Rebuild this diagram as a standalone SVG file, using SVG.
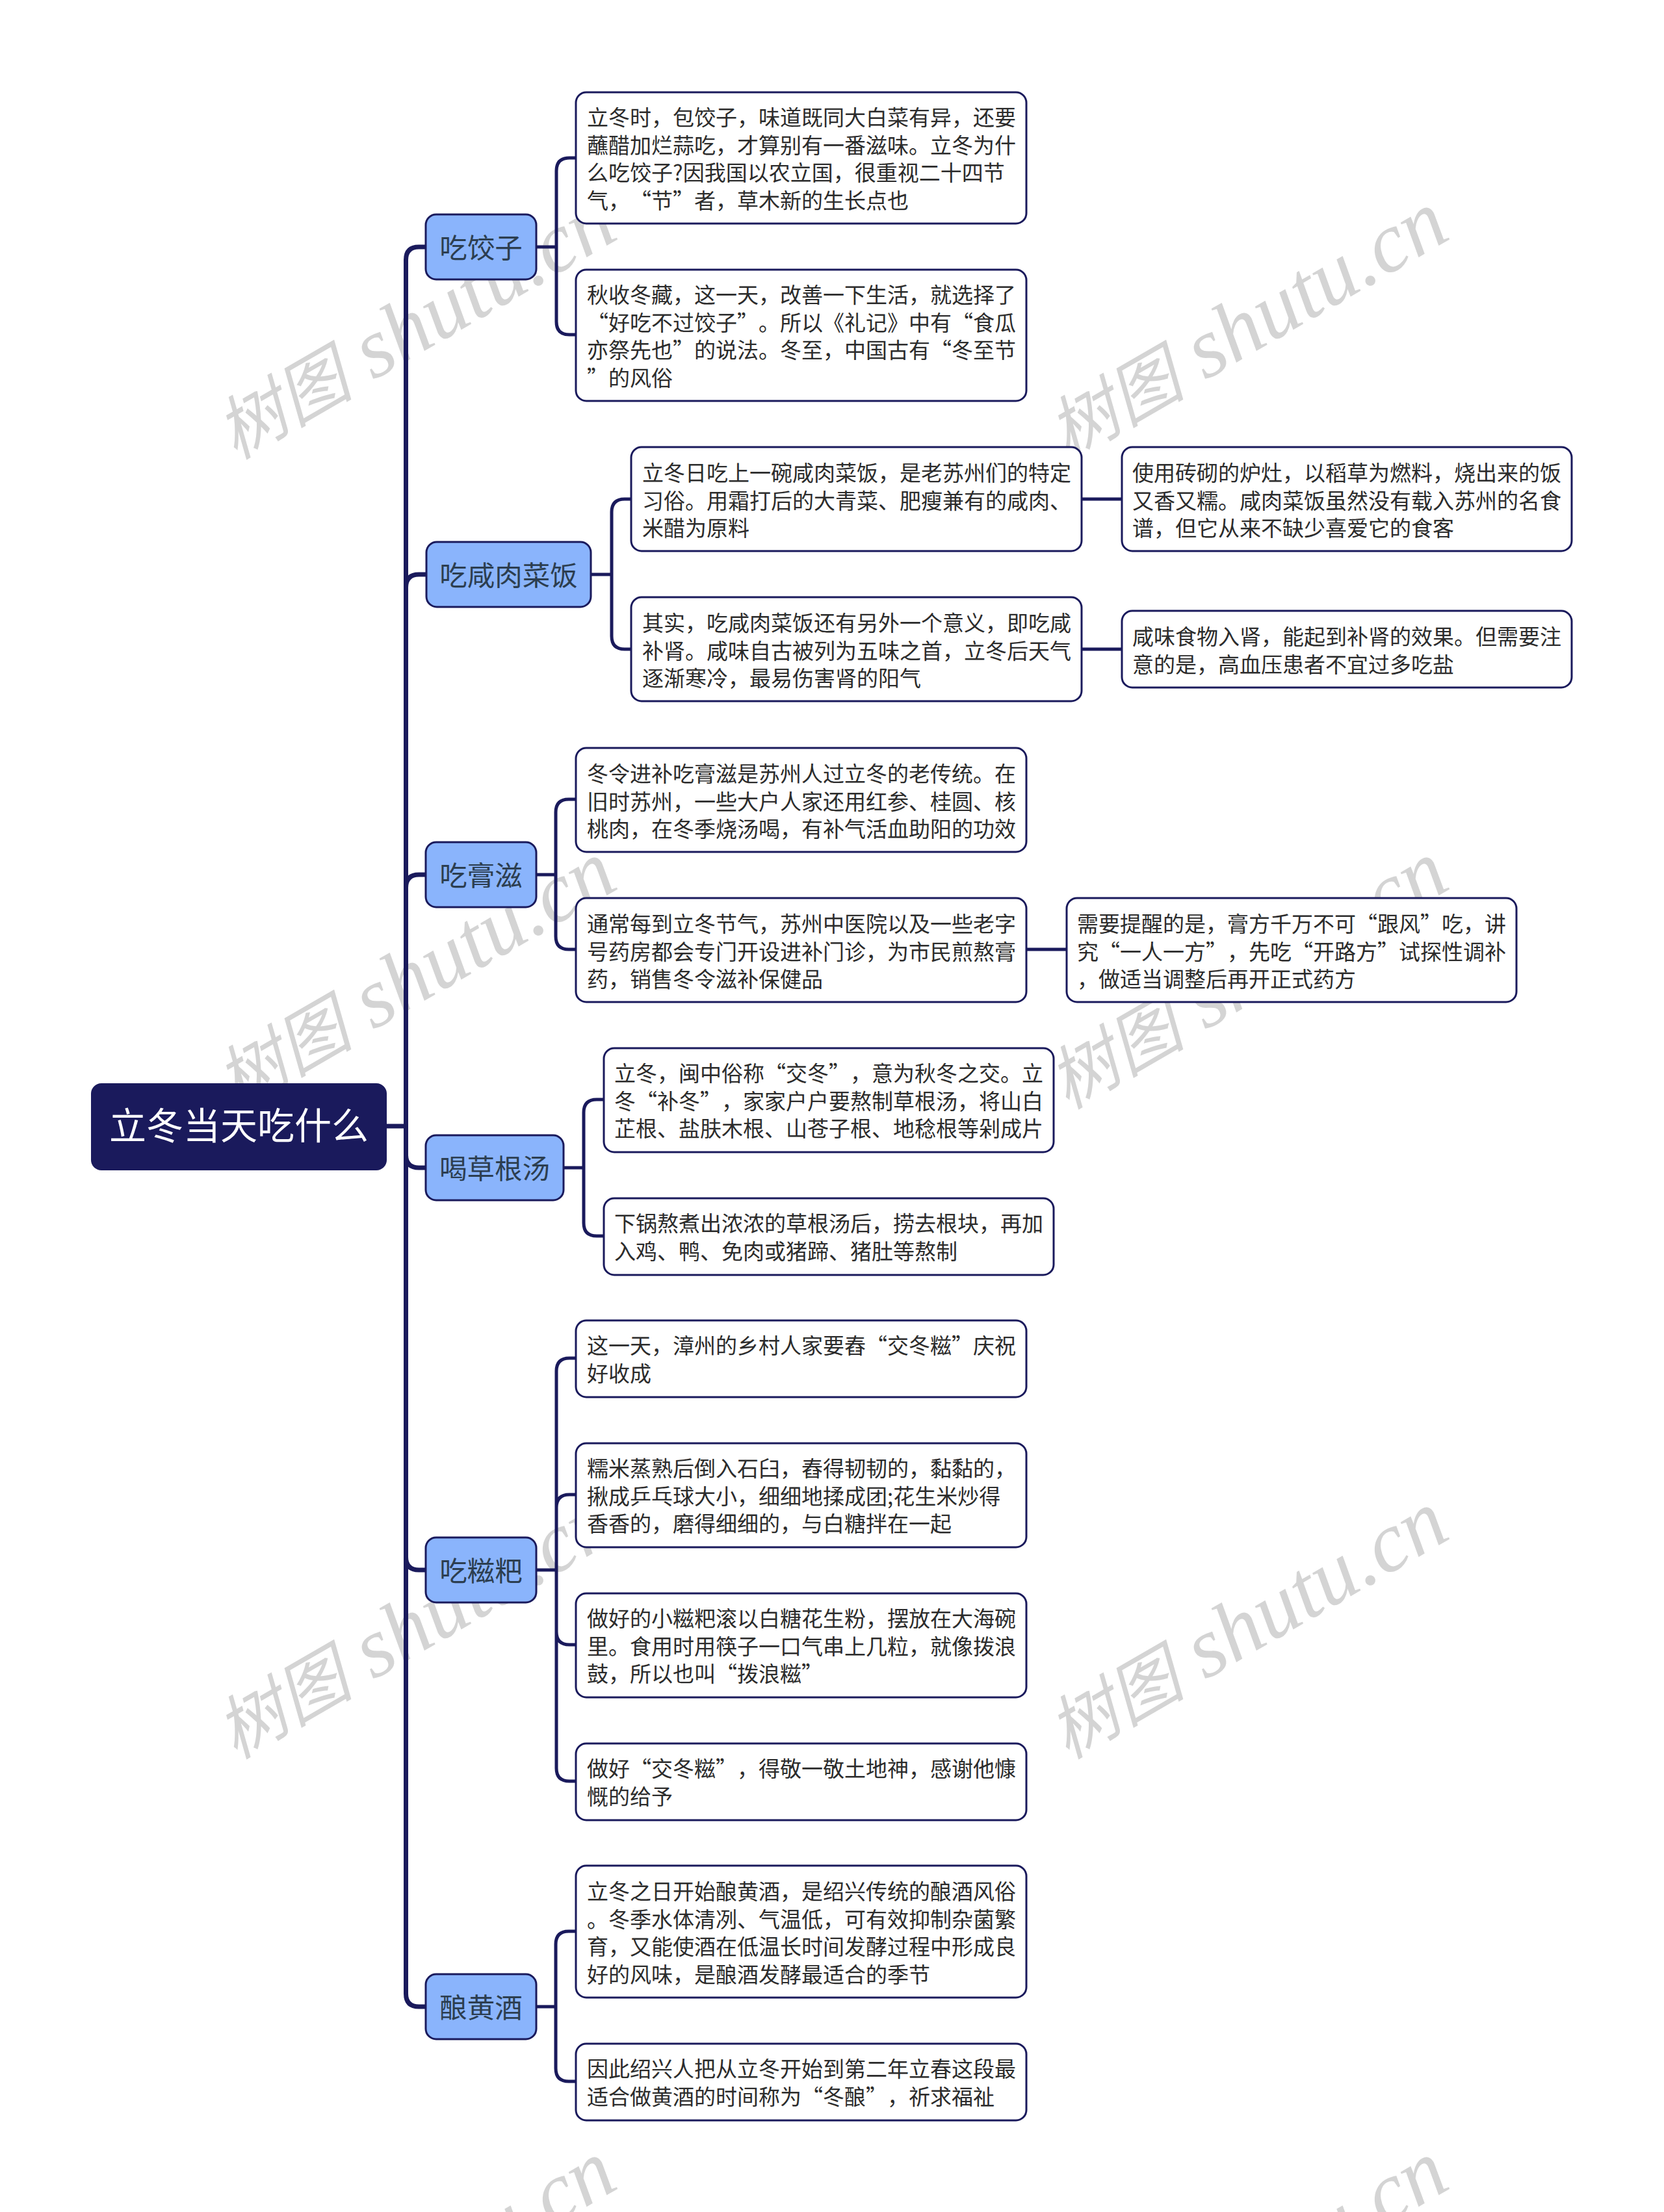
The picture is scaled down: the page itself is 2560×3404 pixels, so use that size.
<svg xmlns="http://www.w3.org/2000/svg" width="2560" height="3404" viewBox="0 0 2560 3404">
<style>
text{font-family:"Noto Sans CJK SC","Liberation Sans",sans-serif;text-spacing-trim:space-all;font-feature-settings:"chws" 0,"palt" 0,"halt" 0}
.wm{font-family:"Liberation Serif","Noto Sans CJK SC",serif;font-style:italic;font-size:131px;fill:#d4d4d4}
.wc{font-size:106px}
.t{fill:none;stroke:#1a1a5c;stroke-width:7}
.b{fill:none;stroke:#1a1a5c;stroke-width:5}
.root{fill:#1a1a5c}
.rt{fill:#fff;font-size:57px;text-anchor:middle}
.l1{fill:#8ab4fc;stroke:#1a1a5c;stroke-width:3}
.lt{fill:#2c3e50;font-size:42.500px;text-anchor:middle}
.l2{fill:#fff;stroke:#1a1a5c;stroke-width:3}
.tx{fill:#2c2c2c;font-size:33px}
</style>
<defs><text id="w" class="wm" transform="rotate(-30)"><tspan class="wc">树图</tspan> shutu.cn</text></defs>
<g id="watermark">
<use href="#w" transform="translate(362,708)"/>
<use href="#w" transform="translate(1642,708)"/>
<use href="#w" transform="translate(362,1708)"/>
<use href="#w" transform="translate(1642,1708)"/>
<use href="#w" transform="translate(362,2708)"/>
<use href="#w" transform="translate(1642,2708)"/>
<use href="#w" transform="translate(362,3708)"/>
<use href="#w" transform="translate(1642,3708)"/>
</g>
<g id="connectors">
<path class="t" d="M594,1733H624.500"/>
<path class="t" d="M624.500,1733V400Q624.500,380 644.500,380H656"/>
<path class="t" d="M624.500,1733V904Q624.500,884 644.500,884H656"/>
<path class="t" d="M624.500,1733V1366Q624.500,1346 644.500,1346H656"/>
<path class="t" d="M624.500,1733V1777Q624.500,1797 644.500,1797H656"/>
<path class="t" d="M624.500,1733V2396Q624.500,2416 644.500,2416H656"/>
<path class="t" d="M624.500,1733V3068Q624.500,3088 644.500,3088H656"/>
<path class="b" d="M824,380H856M886,243H876Q856,243 856,263V495Q856,515 876,515H886"/>
<path class="b" d="M909,884H941M971,768H961Q941,768 941,788V979Q941,999 961,999H971"/>
<path class="b" d="M1664,768H1727M1664,999H1727"/>
<path class="b" d="M824,1346H855M887,1230H875Q855,1230 855,1250V1441Q855,1461 875,1461H887"/>
<path class="b" d="M1578,1461H1642"/>
<path class="b" d="M867,1797H898M929,1692H918Q898,1692 898,1712V1882Q898,1902 918,1902H929"/>
<path class="b" d="M825,2416H856M887,2090H876Q856,2090 856,2110V2721Q856,2741 876,2741H887M856,2320Q856,2300 876,2300H887M856,2511Q856,2531 876,2531H887"/>
<path class="b" d="M824,3088H855M887,2972H875Q855,2972 855,2992V3183Q855,3203 875,3203H887"/>
</g>
<g id="root"><rect class="root" x="140" y="1667" width="455" height="134" rx="16"/><text class="rt" x="367.500" y="1753">立冬当天吃什么</text></g>
<g id="n1"><rect class="l1" x="655" y="330" width="170" height="100" rx="16"/><text class="lt" x="740" y="396.500">吃饺子</text></g>
<g id="n2"><rect class="l1" x="656" y="834" width="253" height="100" rx="16"/><text class="lt" x="782.500" y="900.500">吃咸肉菜饭</text></g>
<g id="n3"><rect class="l1" x="655" y="1296" width="170" height="100" rx="16"/><text class="lt" x="740" y="1362.500">吃膏滋</text></g>
<g id="n4"><rect class="l1" x="655" y="1747" width="212" height="100" rx="16"/><text class="lt" x="761" y="1813.500">喝草根汤</text></g>
<g id="n5"><rect class="l1" x="655" y="2366" width="170" height="100" rx="16"/><text class="lt" x="740" y="2432.500">吃糍粑</text></g>
<g id="n6"><rect class="l1" x="655" y="3038" width="170" height="100" rx="16"/><text class="lt" x="740" y="3104.500">酿黄酒</text></g>
<g id="c1a"><rect class="l2" x="886" y="142" width="693" height="202" rx="16"/><text class="tx" x="903" y="193">立冬时，包饺子，味道既同大白菜有异，还要</text><text class="tx" x="903" y="235.700">蘸醋加烂蒜吃，才算别有一番滋味。立冬为什</text><text class="tx" x="903" y="278.400">么吃饺子?因我国以农立国，很重视二十四节</text><text class="tx" x="903" y="321.100">气，“节”者，草木新的生长点也</text></g>
<g id="c1b"><rect class="l2" x="886" y="415" width="693" height="202" rx="16"/><text class="tx" x="903" y="466">秋收冬藏，这一天，改善一下生活，就选择了</text><text class="tx" x="903" y="508.700">“好吃不过饺子”。所以《礼记》中有“食瓜</text><text class="tx" x="903" y="551.400">亦祭先也”的说法。冬至，中国古有“冬至节</text><text class="tx" x="903" y="594.100">”的风俗</text></g>
<g id="c2a"><rect class="l2" x="971" y="688" width="693" height="160" rx="16"/><text class="tx" x="988" y="740">立冬日吃上一碗咸肉菜饭，是老苏州们的特定</text><text class="tx" x="988" y="782.700">习俗。用霜打后的大青菜、肥瘦兼有的咸肉、</text><text class="tx" x="988" y="825.400">米醋为原料</text></g>
<g id="c2b"><rect class="l2" x="971" y="919" width="693" height="160" rx="16"/><text class="tx" x="988" y="971">其实，吃咸肉菜饭还有另外一个意义，即吃咸</text><text class="tx" x="988" y="1013.700">补肾。咸味自古被列为五味之首，立冬后天气</text><text class="tx" x="988" y="1056.400">逐渐寒冷，最易伤害肾的阳气</text></g>
<g id="c2c"><rect class="l2" x="1726" y="688" width="692" height="160" rx="16"/><text class="tx" x="1742" y="740">使用砖砌的炉灶，以稻草为燃料，烧出来的饭</text><text class="tx" x="1742" y="782.700">又香又糯。咸肉菜饭虽然没有载入苏州的名食</text><text class="tx" x="1742" y="825.400">谱，但它从来不缺少喜爱它的食客</text></g>
<g id="c2d"><rect class="l2" x="1726" y="940" width="692" height="118" rx="16"/><text class="tx" x="1742" y="992">咸味食物入肾，能起到补肾的效果。但需要注</text><text class="tx" x="1742" y="1034.700">意的是，高血压患者不宜过多吃盐</text></g>
<g id="c3a"><rect class="l2" x="886" y="1151" width="693" height="160" rx="16"/><text class="tx" x="903" y="1203">冬令进补吃膏滋是苏州人过立冬的老传统。在</text><text class="tx" x="903" y="1245.700">旧时苏州，一些大户人家还用红参、桂圆、核</text><text class="tx" x="903" y="1288.400">桃肉，在冬季烧汤喝，有补气活血助阳的功效</text></g>
<g id="c3b"><rect class="l2" x="886" y="1382" width="693" height="160" rx="16"/><text class="tx" x="903" y="1434">通常每到立冬节气，苏州中医院以及一些老字</text><text class="tx" x="903" y="1476.700">号药房都会专门开设进补门诊，为市民煎熬膏</text><text class="tx" x="903" y="1519.400">药，销售冬令滋补保健品</text></g>
<g id="c3c"><rect class="l2" x="1641" y="1382" width="692" height="160" rx="16"/><text class="tx" x="1657" y="1434">需要提醒的是，膏方千万不可“跟风”吃，讲</text><text class="tx" x="1657" y="1476.700">究“一人一方”，先吃“开路方”试探性调补</text><text class="tx" x="1657" y="1519.400">，做适当调整后再开正式药方</text></g>
<g id="c4a"><rect class="l2" x="929" y="1613" width="692" height="160" rx="16"/><text class="tx" x="945" y="1664">立冬，闽中俗称“交冬”，意为秋冬之交。立</text><text class="tx" x="945" y="1706.700">冬“补冬”，家家户户要熬制草根汤，将山白</text><text class="tx" x="945" y="1749.400">芷根、盐肤木根、山苍子根、地稔根等剁成片</text></g>
<g id="c4b"><rect class="l2" x="929" y="1844" width="692" height="118" rx="16"/><text class="tx" x="945" y="1895">下锅熬煮出浓浓的草根汤后，捞去根块，再加</text><text class="tx" x="945" y="1937.700">入鸡、鸭、免肉或猪蹄、猪肚等熬制</text></g>
<g id="c5a"><rect class="l2" x="886" y="2032" width="693" height="118" rx="16"/><text class="tx" x="903" y="2083">这一天，漳州的乡村人家要舂“交冬糍”庆祝</text><text class="tx" x="903" y="2125.700">好收成</text></g>
<g id="c5b"><rect class="l2" x="886" y="2221" width="693" height="160" rx="16"/><text class="tx" x="903" y="2272">糯米蒸熟后倒入石臼，舂得韧韧的，黏黏的，</text><text class="tx" x="903" y="2314.700">揪成乒乓球大小，细细地揉成团;花生米炒得</text><text class="tx" x="903" y="2357.400">香香的，磨得细细的，与白糖拌在一起</text></g>
<g id="c5c"><rect class="l2" x="886" y="2452" width="693" height="160" rx="16"/><text class="tx" x="903" y="2503">做好的小糍粑滚以白糖花生粉，摆放在大海碗</text><text class="tx" x="903" y="2545.700">里。食用时用筷子一口气串上几粒，就像拨浪</text><text class="tx" x="903" y="2588.400">鼓，所以也叫“拨浪糍”</text></g>
<g id="c5d"><rect class="l2" x="886" y="2683" width="693" height="118" rx="16"/><text class="tx" x="903" y="2734">做好“交冬糍”，得敬一敬土地神，感谢他慷</text><text class="tx" x="903" y="2776.700">慨的给予</text></g>
<g id="c6a"><rect class="l2" x="886" y="2871" width="693" height="203" rx="16"/><text class="tx" x="903" y="2923">立冬之日开始酿黄酒，是绍兴传统的酿酒风俗</text><text class="tx" x="903" y="2965.700">。冬季水体清冽、气温低，可有效抑制杂菌繁</text><text class="tx" x="903" y="3008.400">育，又能使酒在低温长时间发酵过程中形成良</text><text class="tx" x="903" y="3051.100">好的风味，是酿酒发酵最适合的季节</text></g>
<g id="c6b"><rect class="l2" x="886" y="3145" width="693" height="118" rx="16"/><text class="tx" x="903" y="3196">因此绍兴人把从立冬开始到第二年立春这段最</text><text class="tx" x="903" y="3238.700">适合做黄酒的时间称为“冬酿”，祈求福祉</text></g>
</svg>
